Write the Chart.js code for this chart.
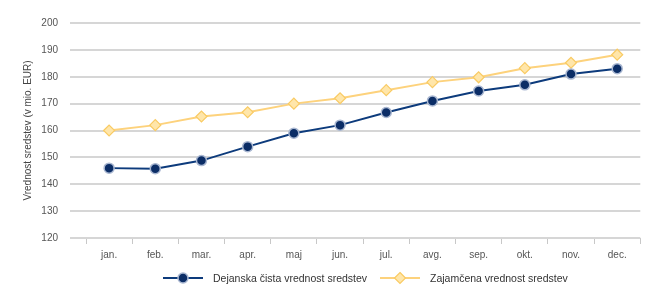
<!DOCTYPE html>
<html>
<head>
<meta charset="utf-8">
<script src="https://cdn.jsdelivr.net/npm/chart.js@4/dist/chart.umd.min.js"></script>
<style>
  html, body { margin: 0; padding: 0; background: #fff; }
  #wrap { width: 647px; height: 285px; position: relative; }
</style>
</head>
<body>
<div id="wrap"><canvas id="chart"></canvas></div>
<script>
// Net asset value vs guaranteed value, monthly

const months = ['jan.', 'feb.', 'mar.', 'apr.', 'maj', 'jun.', 'jul.', 'avg.', 'sep.', 'okt.', 'nov.', 'dec.'];
const actualValues = [146, 145.8, 148.8, 154, 159, 162, 166.7, 171, 174.7, 177, 181, 183];
const guaranteedValues = [160, 162, 165.2, 166.8, 170, 172, 175, 178, 179.8, 183.2, 185.2, 188.2];
const seriesNames = ['Dejanska čista vrednost sredstev', 'Zajamčena vrednost sredstev'];
const yTitle = 'Vrednost sredstev (v mio. EUR)';

const FONT = "'Liberation Sans Narrow', 'Arial Narrow', 'Liberation Sans', sans-serif";
const BLUE = '#0d3b7c';
const YELLOW = '#fdd27c';

// custom legend: line with marker, then label
const lineLegend = {
  id: 'lineLegend',
  afterDraw(chart) {
    const ctx = chart.ctx;
    const items = [
      { x: 163, text: seriesNames[0], ds: chart.data.datasets[0] },
      { x: 380, text: seriesNames[1], ds: chart.data.datasets[1] }
    ];
    const y = 278;
    ctx.save();
    items.forEach(it => {
      ctx.strokeStyle = it.ds.borderColor;
      ctx.lineWidth = 2;
      ctx.beginPath();
      ctx.moveTo(it.x, y);
      ctx.lineTo(it.x + 40, y);
      ctx.stroke();
      ctx.fillStyle = it.ds.pointBackgroundColor;
      ctx.strokeStyle = it.ds.pointBorderColor;
      ctx.lineWidth = it.ds.pointBorderWidth;
      ctx.beginPath();
      const r = it.ds.pointRadius;
      if (it.ds.pointStyle === 'circle') {
        ctx.arc(it.x + 20, y, r, 0, Math.PI * 2);
      } else {
        ctx.moveTo(it.x + 20, y - r);
        ctx.lineTo(it.x + 20 + r, y);
        ctx.lineTo(it.x + 20, y + r);
        ctx.lineTo(it.x + 20 - r, y);
        ctx.closePath();
      }
      ctx.fill();
      ctx.stroke();
      ctx.fillStyle = '#333';
      ctx.font = '10.5px ' + FONT;
      ctx.textBaseline = 'middle';
      ctx.fillText(it.text, it.x + 50, y + 1);
    });
    ctx.restore();
  }
};

new Chart(document.getElementById('chart'), {
  type: 'line',
  data: {
    labels: months,
    datasets: [
      {
        label: seriesNames[0],
        data: actualValues,
        borderColor: BLUE,
        borderWidth: 2,
        pointStyle: 'circle',
        pointRadius: 5,
        pointBackgroundColor: '#0b2d66',
        pointBorderColor: '#a9b7d1',
        pointBorderWidth: 1.5,
        tension: 0
      },
      {
        label: seriesNames[1],
        data: guaranteedValues,
        borderColor: YELLOW,
        borderWidth: 2,
        pointStyle: 'rectRot',
        pointRadius: 5.5,
        pointBackgroundColor: '#ffe6aa',
        pointBorderColor: '#f9cb64',
        pointBorderWidth: 1.2,
        tension: 0
      }
    ]
  },
  options: {
    responsive: true,
    maintainAspectRatio: false,
    animation: false,
    layout: { padding: { top: 23, right: 5, left: 22, bottom: 0 } },
    plugins: { legend: { display: false }, tooltip: { enabled: false } },
    scales: {
      x: {
        offset: true,
        border: { display: false },
        grid: {
          offset: true,
          drawOnChartArea: false,
          drawTicks: true,
          tickLength: 6,
          color: '#c8c8c8',
          lineWidth: 1
        },
        ticks: { color: '#555', font: { family: FONT, size: 10 }, padding: 5 },
        afterFit(scale) { scale.height = 47; }
      },
      y: {
        min: 120,
        max: 200,
        border: { display: false },
        grid: { color: '#d6d6d6', lineWidth: 2, tickLength: 16 },
        ticks: { stepSize: 10, color: '#555', font: { family: FONT, size: 10 }, padding: 12 },
        title: { display: true, text: yTitle, color: '#444', font: { family: FONT, size: 10 }, padding: 0 },
        afterFit(scale) { scale.width = 64; }
      }
    }
  },
  plugins: [lineLegend]
});
</script>
</body>
</html>
